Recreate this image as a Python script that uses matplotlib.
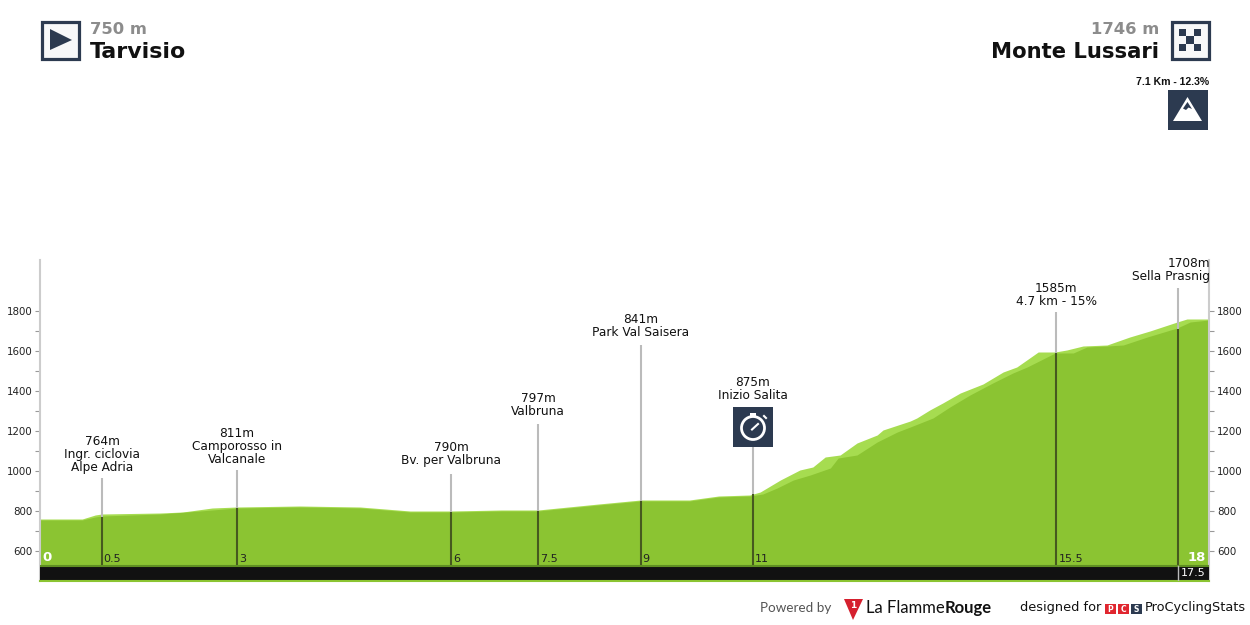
#!/usr/bin/env python3
import numpy as np
import matplotlib
matplotlib.use('Agg')
import matplotlib.pyplot as plt
from matplotlib.patches import Rectangle, Polygon, Circle

# profile, km and metres
km_light = [0, 0.65, 0.85, 0.95, 1.85, 2.2, 2.65, 3.03, 4.0, 4.93, 5.7, 6.33, 7.1, 7.67, 8.6,
            9.25, 10.0, 10.45, 10.93, 11.09, 11.40, 11.70, 11.90, 12.09, 12.32, 12.58, 12.89,
            12.98, 13.40, 13.50, 13.70, 13.90, 14.17, 14.52, 14.83, 15.04, 15.37, 15.63, 15.81,
            16.06, 16.43, 16.78, 17.09, 17.51, 17.66, 18]
elev_light = [760, 760, 780, 785, 790, 795, 815, 820, 825, 820, 800, 800, 805, 805, 835,
              855, 855, 875, 880, 895, 955, 1005, 1020, 1070, 1080, 1140, 1180,
              1205, 1250, 1265, 1305, 1340, 1390, 1435, 1495, 1520, 1595, 1595, 1605,
              1625, 1630, 1670, 1700, 1745, 1760, 1760]
km_dark = [0, 0.65, 0.85, 0.95, 1.85, 2.46, 3.03, 4.0, 4.93, 5.7, 6.33, 7.1, 7.67, 8.6,
           9.25, 10.0, 10.45, 10.93, 11.13, 11.35, 11.60, 11.86, 12.17, 12.29, 12.58, 12.89,
           13.20, 13.40, 13.75, 14.01, 14.32, 14.67, 14.98, 15.20, 15.63, 15.91, 16.12, 16.43,
           16.68, 17.05, 17.51, 17.71, 18]
elev_dark = [755, 755, 770, 775, 785, 800, 815, 820, 815, 795, 795, 800, 800, 830,
             850, 850, 870, 875, 885, 915, 955, 980, 1015, 1065, 1080, 1145,
             1195, 1220, 1265, 1320, 1380, 1440, 1490, 1520, 1590, 1590, 1620, 1625,
             1630, 1670, 1715, 1745, 1755]

# climbs and checkpoints along the route
point_km = [0.95, 3.03, 6.33, 7.67, 9.25, 10.98, 15.65, 17.53]
point_elev = [770, 815, 795, 800, 850, 885, 1590, 1710]
point_label_km = ['0.5', '3', '6', '7.5', '9', '11', '15.5', '17.5']
point_names = ['764m\nIngr. ciclovia\nAlpe Adria', '811m\nCamporosso in\nValcanale',
               '790m\nBv. per Valbruna', '797m\nValbruna', '841m\nPark Val Saisera',
               '875m\nInizio Salita', '1585m\n4.7 km - 15%', '1708m\nSella Prasnig']
line_top = [965, 1005, 985, 1235, 1630, 1120, 1795, 1915]

GREEN = '#8bc432'
LIGHT = '#a6dc50'
NAVY = '#2c3a50'

fig = plt.figure(figsize=(12.5, 6.25), dpi=100, facecolor='white')
W, H = 1250, 625
ax = fig.add_axes([40 / W, 1 - 581 / H, 1169 / W, 321 / H])
ax.set_xlim(0, 18)
ax.set_ylim(450, 2055)
ax.patch.set_alpha(0)

ax.fill_between(km_light, 450, elev_light, color=LIGHT, lw=0, zorder=1)
ax.fill_between(km_dark, 450, elev_dark, color=GREEN, lw=0, zorder=2)

# black band at the bottom
ax.add_patch(Rectangle((0, 450), 18, 75, fc='#111111', ec='none', zorder=4))
ax.plot([0, 18], [526, 526], color='#5f8f22', lw=1.5, zorder=5)
ax.plot([0, 18], [450, 450], color='#8bc432', lw=1.5, zorder=5, clip_on=False)

for k, e, lab, top in zip(point_km, point_elev, point_label_km, line_top):
    ax.plot([k, k], [e, top], color='#bbbbbb', lw=1.5, zorder=3, solid_capstyle='butt')
    ax.plot([k, k], [526, e], color='#46591f', lw=1.5, zorder=3, solid_capstyle='butt')
    if lab == '17.5':
        ax.plot([k, k], [450, 526], color='#bbbbbb', lw=1, zorder=6)
        ax.text(k + 0.04, 488, lab, fontsize=8, color='white', va='center', zorder=7)
    else:
        ax.text(k + 0.03, 535, lab, fontsize=8, color='#222222', va='bottom', zorder=7)

ax.text(0.03, 533, '0', fontsize=9.5, fontweight='bold', color='white', va='bottom', zorder=7)
ax.text(17.95, 533, '18', fontsize=9.5, fontweight='bold', color='white', va='bottom', ha='right', zorder=7)

ax.set_xticks([])
ax.set_yticks(np.arange(600, 1801, 200))
ax.set_yticks(np.arange(700, 1701, 200), minor=True)
ax.tick_params(axis='y', which='major', left=True, right=True, labelleft=True, labelright=True,
               labelsize=7.4, length=3.6, width=0.8, color='#999999', labelcolor='#222222', pad=2)
ax.tick_params(axis='y', which='minor', left=True, right=True, length=3.6, width=0.8, color='#999999')
for side in ['top', 'bottom']:
    ax.spines[side].set_visible(False)
for side in ['left', 'right']:
    ax.spines[side].set_color('#cccccc')
    ax.spines[side].set_linewidth(1.5)

# overlay in pixel coordinates for header, icons and footer
ov = fig.add_axes([0, 0, 1, 1])
ov.set_xlim(0, W)
ov.set_ylim(H, 0)
ov.axis('off')
ov.patch.set_alpha(0)

label_anchor = [102, 237, 451, 538, 641, 753, 1056, 1178]
label_bottom = [474, 466, 467, 418, 339, 402, 308, 283]
for x, y, name in zip(label_anchor, label_bottom, point_names):
    ha = 'center'
    if name.startswith('1708'):
        x, ha = 1210, 'right'
    ov.text(x, y, name, ha=ha, va='bottom', fontsize=8.7, color='#111111', linespacing=1.0)

# start and finish boxes
ov.add_patch(Rectangle((41.5, 21.5), 37, 37, fc='#f7f8f9', ec=NAVY, lw=2.3))
ov.add_patch(Polygon([(50, 29), (50, 50), (72, 40)], fc=NAVY, ec='none'))
ov.add_patch(Rectangle((1171.5, 21.5), 37, 37, fc='#f7f8f9', ec=NAVY, lw=2.3))
for r in range(3):
    for c in range(3):
        if (r + c) % 2 == 0:
            ov.add_patch(Rectangle((1179 + c * 7.4, 29 + r * 7.4), 7.4, 7.4, fc=NAVY, ec='none'))

ov.text(90, 29, '750 m', fontsize=11.8, fontweight='bold', color='#8c8c8c', va='center')
ov.text(90, 52, 'Tarvisio', fontsize=15.9, fontweight='bold', color='#111111', va='center')
ov.text(1159, 29, '1746 m', fontsize=11.8, fontweight='bold', color='#8c8c8c', va='center', ha='right')
ov.text(1159, 52, 'Monte Lussari', fontsize=15.2, fontweight='bold', color='#111111', va='center', ha='right')

# mountain icon
ov.text(1209, 82, '7.1 Km - 12.3%', fontsize=7.6, fontweight='bold', family='Liberation Sans',
        color='#111111', ha='right', va='center')
ov.add_patch(Rectangle((1168, 90), 40, 40, fc=NAVY, ec='none'))
ov.add_patch(Polygon([(1187.5, 97), (1202, 121), (1173, 121)], fc='white', ec='none'))
ov.add_patch(Polygon([(1187.5, 102), (1192, 109), (1188.5, 107.5), (1186, 110), (1183, 108.5)], fc=NAVY, ec='none'))

# stopwatch icon
ov.add_patch(Rectangle((733, 407), 40, 40, fc=NAVY, ec='none'))
ov.add_patch(Circle((753, 428), 11.5, fc='none', ec='white', lw=2))
ov.add_patch(Rectangle((750, 413), 6, 2.5, fc='white', ec='none'))
ov.plot([752, 758], [429.5, 424], color='white', lw=1.5)
ov.plot([764, 766], [416, 418], color='white', lw=1.5)

# footer
ov.text(760, 608, 'Powered by', fontsize=9.7, family='Lato', color='#555555', va='center')
ov.add_patch(Polygon([(844, 599), (863, 599), (853, 620)], fc='#d5202e', ec='none'))
ov.text(853, 606, '1', fontsize=6.5, fontweight='bold', color='white', ha='center', va='center')
ov.text(866, 608, 'La Flamme', fontsize=12, family='Lato', color='#111111', va='center')
ov.text(945, 608, 'Rouge', fontsize=12, family='Lato', fontweight='bold', color='#111111', va='center')
ov.text(1020, 608, 'designed for', fontsize=9.3, color='#111111', va='center')
for x, col, s in zip([1105, 1118, 1131], ['#e0262f', '#e0262f', NAVY], ['P', 'C', 'S']):
    ov.add_patch(Rectangle((x, 604), 10.5, 10, fc=col, ec='none'))
    ov.text(x + 5.2, 609, s, fontsize=5.5, fontweight='bold', color='white', ha='center', va='center')
ov.text(1145, 608, 'ProCyclingStats', fontsize=9.3, color='#111111', va='center')

fig.savefig('out.png', dpi=100)
